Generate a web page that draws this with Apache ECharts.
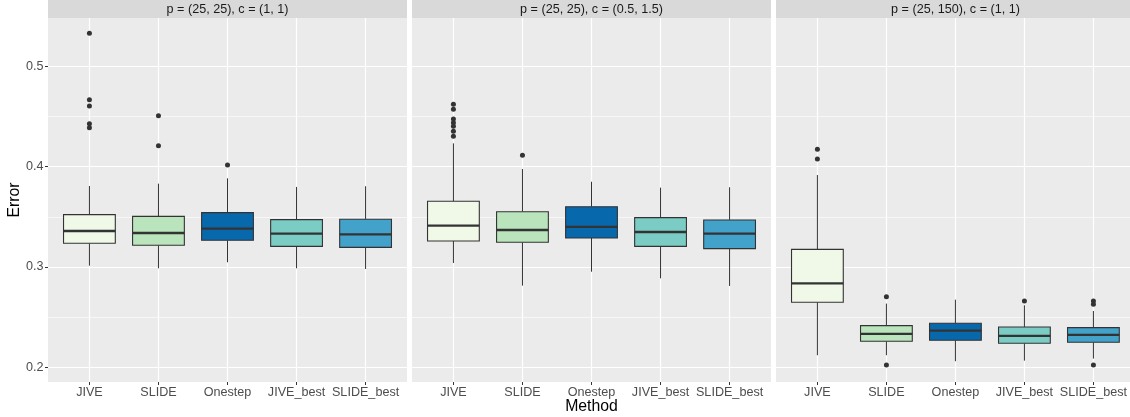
<!DOCTYPE html>
<html>
<head>
<meta charset="utf-8">
<script src="https://cdn.jsdelivr.net/npm/echarts@6/dist/echarts.min.js"></script>
<style>html,body{margin:0;padding:0;background:#fff}#c{width:1130px;height:417px}</style>
</head>
<body>
<div id="c"></div>
<script>
// ---- data ----
const categories = ['JIVE', 'SLIDE', 'Onestep', 'JIVE_best', 'SLIDE_best'];
const panelTitles = ['p = (25, 25), c = (1, 1)', 'p = (25, 25), c = (0.5, 1.5)', 'p = (25, 150), c = (1, 1)'];
const yTicks = [0.2, 0.3, 0.4, 0.5];
const yMinor = [0.25, 0.35, 0.45];
const yRange = [0.1853, 0.5483];
const methodColors = ['#F0F9E8', '#BAE4BC', '#0868AC', '#7BCCC4', '#43A2CA'];

// [lower whisker, Q1, median, Q3, upper whisker]
const statsP1 = [
  [0.3013, 0.3236, 0.3359, 0.3522, 0.3808],
  [0.2987, 0.3216, 0.3339, 0.3505, 0.3831],
  [0.3047, 0.3266, 0.3382, 0.3542, 0.3884],
  [0.2987, 0.3206, 0.3332, 0.3472, 0.3798],
  [0.2980, 0.3196, 0.3326, 0.3476, 0.3805]
];
const statsP2 = [
  [0.3040, 0.3259, 0.3412, 0.3655, 0.4233],
  [0.2814, 0.3246, 0.3369, 0.3551, 0.3977],
  [0.2953, 0.3289, 0.3399, 0.3601, 0.3850],
  [0.2887, 0.3206, 0.3349, 0.3492, 0.3791],
  [0.2811, 0.3183, 0.3332, 0.3469, 0.3795]
];
const statsP3 = [
  [0.2120, 0.2648, 0.2837, 0.3176, 0.3917],
  [0.2120, 0.2259, 0.2332, 0.2415, 0.2635],
  [0.2060, 0.2269, 0.2365, 0.2439, 0.2674],
  [0.2066, 0.2239, 0.2312, 0.2402, 0.2618],
  [0.2086, 0.2249, 0.2322, 0.2395, 0.2561]
];
// [method index, value]
const outliersP1 = [
  [0, 0.5330], [0, 0.4668], [0, 0.4605], [0, 0.4429], [0, 0.4389],
  [1, 0.4509], [1, 0.4209],
  [2, 0.4017]
];
const outliersP2 = [
  [0, 0.4622], [0, 0.4572], [0, 0.4476], [0, 0.4439], [0, 0.4403], [0, 0.4353], [0, 0.4303],
  [1, 0.4114]
];
const outliersP3 = [
  [0, 0.4174], [0, 0.4077],
  [1, 0.2704], [1, 0.2023],
  [3, 0.2661],
  [4, 0.2661], [4, 0.2628], [4, 0.2023]
];

// ---- layout ----
const stats = [statsP1, statsP2, statsP3];
const outliers = [outliersP1, outliersP2, outliersP3];
const panelLeft = [48, 412, 776];
const panelW = 359, panelTop = 18, panelH = 364;
const unit = panelW / 5.2;
const FONT = 'Liberation Sans, Arial, Helvetica, sans-serif';

const grids = [], xAxes = [], yAxes = [], series = [], graphics = [];

function renderBox(params, api) {
  const x = api.value(0);
  const lo = api.coord([x, api.value(1)]);
  const q1 = api.coord([x, api.value(2)]);
  const md = api.coord([x, api.value(3)]);
  const q3 = api.coord([x, api.value(4)]);
  const hi = api.coord([x, api.value(5)]);
  const bw = api.size([1, 0])[0] * 0.75;
  const cx = lo[0];
  const color = methodColors[x];
  const ls = { stroke: '#333333', lineWidth: 1 };
  return {
    type: 'group',
    children: [
      { type: 'line', shape: { x1: cx, y1: hi[1], x2: cx, y2: q3[1] }, style: ls },
      { type: 'line', shape: { x1: cx, y1: q1[1], x2: cx, y2: lo[1] }, style: ls },
      { type: 'rect', shape: { x: cx - bw / 2, y: q3[1], width: bw, height: q1[1] - q3[1] },
        style: { fill: color, stroke: '#333333', lineWidth: 1.1 } },
      { type: 'line', shape: { x1: cx - bw / 2, y1: md[1], x2: cx + bw / 2, y2: md[1] },
        style: { stroke: '#333333', lineWidth: 2.3 } }
    ]
  };
}

for (let p = 0; p < 3; p++) {
  const L = panelLeft[p];
  grids.push({ left: L, top: panelTop, width: panelW, height: panelH, show: true,
    backgroundColor: '#EBEBEB', borderWidth: 0 });
  grids.push({ left: L + 0.1 * unit, top: panelTop, width: 5 * unit, height: panelH, show: false });
  const bg = 2 * p, dg = 2 * p + 1;
  xAxes.push({ gridIndex: bg, type: 'value', min: 0, max: 1, show: false });
  xAxes.push({ gridIndex: dg, type: 'category', data: categories, boundaryGap: true,
    axisLine: { show: false },
    axisTick: { show: true, alignWithLabel: true, length: 3, lineStyle: { color: '#333333', width: 1 } },
    axisLabel: { color: '#4D4D4D', fontSize: 12.6, fontFamily: FONT, margin: 4, interval: 0 },
    splitLine: { show: false } });
  yAxes.push({ gridIndex: bg, type: 'value', min: yRange[0], max: yRange[1],
    show: p === 0,
    axisLine: { show: false },
    axisTick: { show: true, length: 3, customValues: yTicks, lineStyle: { color: '#333333', width: 1 } },
    axisLabel: { show: true, customValues: yTicks, color: '#4D4D4D', fontSize: 12.6, fontFamily: FONT, margin: 4.5,
      formatter: v => v.toFixed(1) },
    splitLine: { show: false } });
  yAxes.push({ gridIndex: dg, type: 'value', min: yRange[0], max: yRange[1], show: false,
    splitLine: { show: false } });

  series.push({
    type: 'scatter', xAxisIndex: bg, yAxisIndex: bg, data: [], silent: true, z: 1,
    markLine: { silent: true, z: 1, symbol: ['none', 'none'], animation: false, label: { show: false },
      data: yMinor.map(v => ({ yAxis: v, lineStyle: { color: '#FFFFFF', width: 0.6, type: 'solid' } }))
        .concat(yTicks.map(v => ({ yAxis: v, lineStyle: { color: '#FFFFFF', width: 1.2, type: 'solid' } }))) }
  });
  series.push({
    type: 'scatter', xAxisIndex: dg, yAxisIndex: dg, data: [], silent: true, z: 1,
    markLine: { silent: true, z: 1, symbol: ['none', 'none'], animation: false, label: { show: false },
      data: categories.map(c => ({ xAxis: c, lineStyle: { color: '#FFFFFF', width: 1.2, type: 'solid' } })) }
  });
  series.push({
    type: 'custom', xAxisIndex: dg, yAxisIndex: dg, z: 10, animation: false,
    renderItem: renderBox,
    encode: { x: 0, y: [1, 2, 3, 4, 5] },
    data: stats[p].map((s, i) => [i].concat(s)),
    clip: false
  });
  series.push({
    type: 'scatter', xAxisIndex: dg, yAxisIndex: dg, z: 11, animation: false,
    symbol: 'circle', symbolSize: 5,
    itemStyle: { color: '#333333', opacity: 1 },
    data: outliers[p]
  });

  graphics.push({ type: 'rect', left: L, top: 0, shape: { width: panelW, height: 18 },
    style: { fill: '#D9D9D9' }, z: 20 });
  graphics.push({ type: 'text', x: L + panelW / 2, y: 9.5, z: 21,
    style: { text: panelTitles[p], fill: '#1A1A1A', font: '12.6px ' + FONT, align: 'center', verticalAlign: 'middle' } });
}

graphics.push({ type: 'text', x: 15, y: 200, rotation: Math.PI / 2, z: 21,
  style: { text: 'Error', fill: '#000000', font: '15.8px ' + FONT, align: 'center', verticalAlign: 'middle' } });
graphics.push({ type: 'text', x: 591.5, y: 406.5, z: 21,
  style: { text: 'Method', fill: '#000000', font: '15.8px ' + FONT, align: 'center', verticalAlign: 'middle' } });

const chart = echarts.init(document.getElementById('c'), null, { renderer: 'canvas' });
chart.setOption({
  animation: false,
  backgroundColor: '#FFFFFF',
  grid: grids,
  xAxis: xAxes,
  yAxis: yAxes,
  series: series,
  graphic: graphics
});
</script>
</body>
</html>
